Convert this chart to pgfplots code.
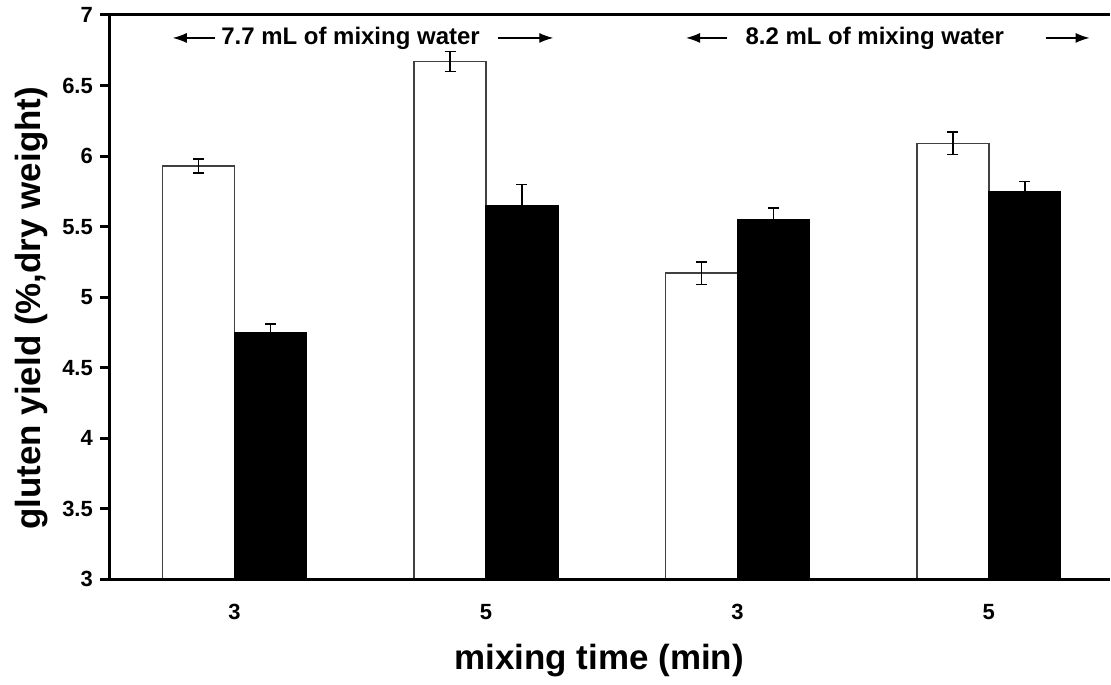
\documentclass[border=0pt]{standalone}
\usepackage{pgfplots}
\pgfplotsset{compat=1.18}
\usepackage{fontspec}
\setmainfont{Liberation Sans}
\usetikzlibrary{arrows.meta}
\begin{document}
\begin{tikzpicture}
\begin{scope}[x=0.5pt,y=-0.5pt,shift={(-55pt,290pt)}]
\useasboundingbox (0,0) rectangle (1111,680);
\end{scope}
\begin{axis}[
  name=ax,
  scale only axis,
  width=500.5pt, height=282.5pt,
  xmin=-0.496, xmax=3.48,
  ymin=3, ymax=7,
  ytick={3,3.5,...,7},
  xtick={0,1,2,3},
  xticklabels={3,5,3,5},
  axis line style={draw=none},
  ytick pos=left,
  tick align=outside,
  major tick length=5pt,
  ytick style={line width=1.5pt,black},
  xtick style={draw=none},
  /pgf/number format/assume math mode=true,
  tick label style={font=\fontsize{11}{13}\selectfont\bfseries},
  x tick label style={yshift=-4pt},
  xlabel={mixing time (min)},
  ylabel={gluten yield (\%,dry weight)},
  every axis x label/.style={at={(axis description cs:0.4895,-0.145)},anchor=center,font=\fontsize{17.5}{20}\selectfont\bfseries},
  every axis y label/.style={at={(axis description cs:-0.078,0.48)},rotate=90,anchor=center,font=\fontsize{17.5}{20}\selectfont\bfseries},
  ybar, bar width=36pt,
  clip=true,
  error bars/error bar style={line width=0.75pt,black},
  error bars/error mark options={rotate=90,mark size=2.75pt,line width=0.75pt,black},
]
\addplot[bar shift=-18pt, fill=white, draw=black!75, line width=0.7pt,
  error bars/.cd, y dir=both, y explicit]
  coordinates {(0,5.93) +- (0,0.05) (1,6.67) +- (0,0.07) (2,5.17) +- (0,0.08) (3,6.09) +- (0,0.08)};
\addplot[bar shift=18pt, fill=black, draw=black, line width=0.7pt,
  error bars/.cd, y dir=both, y explicit]
  coordinates {(0,4.75) +- (0,0.06) (1,5.65) +- (0,0.15) (2,5.55) +- (0,0.08) (3,5.75) +- (0,0.07)};
\end{axis}
\draw[line width=1.5pt] (ax.south west) -- (ax.south east);
\draw[line width=1.5pt] (ax.north west) -- (ax.north east);
\draw[line width=1.5pt] ([yshift=0.75pt]ax.north west) -- ([yshift=-0.75pt]ax.south west);
\begin{scope}[x=0.5pt,y=-0.5pt,shift={(-55pt,290pt)}]
\tikzset{arr/.style={line width=0.6pt,-{Latex[length=7pt,width=5pt]}}}
\draw[arr] (215,38) -- (173,38);
\draw[arr] (499,38) -- (554,38);
\node[font=\fontsize{12}{14}\selectfont\bfseries] at (351,38) {7.7 mL of mixing water};
\draw[arr] (728,38) -- (687,38);
\draw[arr] (1047,38) -- (1091,38);
\node[font=\fontsize{12}{14}\selectfont\bfseries] at (876,38) {8.2 mL of mixing water};
\end{scope}
\end{tikzpicture}
\end{document}
